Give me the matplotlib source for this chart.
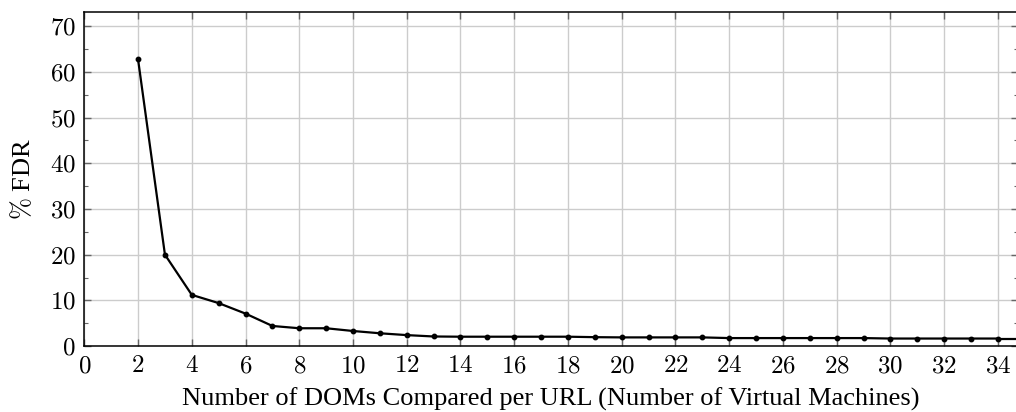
import matplotlib.pyplot as plt
from matplotlib.ticker import MultipleLocator

# data
vms = list(range(2, 35))
fdr = [62.7, 20.0, 11.2, 9.4, 7.1, 4.4, 3.9, 3.9, 3.3, 2.8,
       2.4, 2.1, 2.05, 2.05, 2.05, 2.05, 2.05, 1.95, 1.9, 1.9,
       1.9, 1.9, 1.75, 1.75, 1.75, 1.75, 1.75, 1.75, 1.65, 1.65,
       1.65, 1.65, 1.65]
# line runs on past the cropped right edge
vms_tail = [34, 35]
fdr_tail = [1.65, 1.65]

plt.rcParams['font.family'] = 'cmr10'
plt.rcParams['mathtext.fontset'] = 'cm'
plt.rcParams['axes.formatter.use_mathtext'] = True

fig = plt.figure(figsize=(10.16, 4.12), dpi=100)
ax = fig.add_axes([0.083, 0.160, 0.919, 0.810])

ax.plot(vms_tail, fdr_tail, color='k', lw=1.6)
ax.plot(vms, fdr, color='k', lw=1.6, marker='o', ms=3.2)

ax.set_xlim(0, 34.75)
ax.set_ylim(0, 73)
ax.xaxis.set_major_locator(MultipleLocator(2))
ax.yaxis.set_major_locator(MultipleLocator(10))
ax.yaxis.set_minor_locator(MultipleLocator(5))
ax.grid(True, which='major', color='#cccccc', lw=1.0)
ax.set_axisbelow(True)

ax.tick_params(which='both', direction='in', top=True, right=True,
               labelsize=18, color='#666666')
ax.tick_params(axis='x', pad=6.5)
ax.tick_params(axis='y', pad=6)
ax.tick_params(which='major', length=5, width=1)
ax.tick_params(which='minor', length=3, width=0.8)
for s in ax.spines.values():
    s.set_linewidth(1.1)

ax.set_xlabel('Number of DOMs Compared per URL (Number of Virtual Machines)',
              fontsize=19, family='Liberation Serif', va='baseline')
ax.xaxis.set_label_coords(0.5, -0.177)
ax.set_ylabel(r'$\%$ FDR', fontsize=19, family='Liberation Serif',
              va='center')
ax.yaxis.set_label_coords(-0.067, 0.5)

fig.savefig('out.png', dpi=100)
